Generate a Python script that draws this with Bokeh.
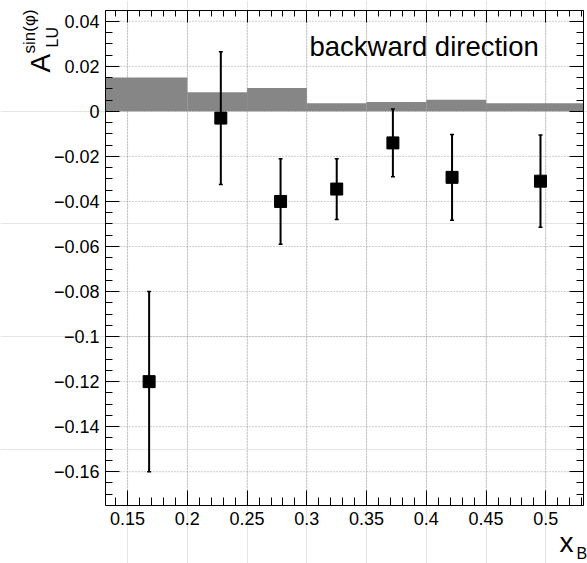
import numpy as np
from bokeh.plotting import figure
from bokeh.models import (ColumnDataSource, Whisker, LinearAxis, FixedTicker,
                          CustomJSTickFormatter, Label, Range1d, TeeHead)
from bokeh.embed import file_html
from bokeh.resources import INLINE

# ---- data ----
x_b = [0.168, 0.228, 0.278, 0.325, 0.372, 0.4215, 0.4955]
a_lu = [-0.120, -0.003, -0.040, -0.0345, -0.014, -0.0293, -0.031]
a_err = [0.040, 0.0295, 0.019, 0.0135, 0.015, 0.019, 0.0205]

sys_left = [0.10, 0.20, 0.25, 0.30, 0.35, 0.40, 0.45]
sys_right = [0.20, 0.25, 0.30, 0.35, 0.40, 0.45, 0.60]
sys_height = [0.0150, 0.0085, 0.0104, 0.0036, 0.0041, 0.0051, 0.0036]

x_major = [0.15, 0.2, 0.25, 0.3, 0.35, 0.4, 0.45, 0.5]
y_major = [-0.16, -0.14, -0.12, -0.1, -0.08, -0.06, -0.04, -0.02, 0, 0.02, 0.04]

FONT = "Liberation Sans"
XR = (0.1315, 0.5315)      # plotted x range
YR = (-0.175, 0.045)       # plotted y range

x_minor = [v for v in (round(t, 3) for t in np.arange(0.14, 0.535, 0.01))
           if all(abs(v - m) > 1e-9 for m in x_major)]
y_minor = [v for v in (round(t, 4) for t in np.arange(-0.17, 0.0451, 0.005))
           if all(abs(v - m) > 1e-9 for m in y_major)]

# layout of the plot box inside the 587x563 canvas (pixels)
W, H = 587, 563
BOX_L, BOX_R, BOX_T, BOX_B = 105.0, 583.0, 9.5, 505.0
kx = (XR[1] - XR[0]) / (BOX_R - BOX_L)
ky = (YR[1] - YR[0]) / (BOX_B - BOX_T)
x_full = (XR[0] - BOX_L * kx, XR[1] + (W - BOX_R) * kx)
y_full = (YR[0] - (H - BOX_B) * ky, YR[1] + BOX_T * ky)

p = figure(width=W, height=H, x_range=Range1d(*x_full), y_range=Range1d(*y_full),
           output_backend="svg", toolbar_location=None,
           x_axis_location=None, y_axis_location=None,
           min_border_left=0, min_border_right=0, min_border_top=0,
           min_border_bottom=0)
p.background_fill_color = "white"
p.border_fill_color = "white"
p.outline_line_color = None

fmt = CustomJSTickFormatter(code="""
const s = String(parseFloat(tick.toFixed(4)));
return s.replace('-', '\\u2212');
""")
blank = CustomJSTickFormatter(code="return '';")

xt = FixedTicker(ticks=x_major, minor_ticks=x_minor)
yt = FixedTicker(ticks=y_major, minor_ticks=y_minor)


def mk_axis(ticker, labels, loc, bounds, major_len=14, minor_len=7):
    ax = LinearAxis(ticker=ticker, formatter=fmt if labels else blank,
                    fixed_location=loc, bounds=bounds,
                    major_tick_in=major_len, major_tick_out=0,
                    minor_tick_in=minor_len, minor_tick_out=0,
                    axis_line_color="black", major_tick_line_color="black",
                    minor_tick_line_color="black",
                    major_label_text_font=FONT,
                    major_label_text_color="black",
                    major_label_text_font_size="18px",
                    major_label_standoff=6 if labels else 0)
    return ax


# grid lines (dotted), limited to the plot box
p.segment(x0=x_major, x1=x_major, y0=[YR[0]] * len(x_major), y1=[YR[1]] * len(x_major),
          line_color="#a0a0a0", line_dash="1 2", line_width=1)
p.segment(x0=[XR[0]] * len(y_major), x1=[XR[1]] * len(y_major), y0=y_major, y1=y_major,
          line_color="#a0a0a0", line_dash="1 2", line_width=1)

# systematic band (clipped to the plot box)
band = ColumnDataSource(dict(left=list(np.clip(sys_left, *XR)),
                             right=list(np.clip(sys_right, *XR)),
                             top=sys_height, bottom=[0] * len(sys_height)))
p.quad(left="left", right="right", top="top", bottom="bottom", source=band,
       fill_color="#868686", line_color=None)

# data points
src = ColumnDataSource(dict(x=x_b, y=a_lu,
                            upper=[v + e for v, e in zip(a_lu, a_err)],
                            lower=[v - e for v, e in zip(a_lu, a_err)]))
p.add_layout(Whisker(base="x", upper="upper", lower="lower", source=src,
                     line_color="black", line_width=2, level="glyph",
                     upper_head=TeeHead(size=4, line_color="black", line_width=1.5),
                     lower_head=TeeHead(size=4, line_color="black", line_width=1.5)))
p.scatter(x="x", y="y", source=src, marker="square", size=12,
          fill_color="black", line_color="black")

p.add_layout(mk_axis(xt, True, YR[0], XR, 15, 8), "below")
p.add_layout(mk_axis(yt, True, XR[0], YR), "left")
p.add_layout(mk_axis(xt, False, YR[1], XR, 12, 6), "above")
p.add_layout(mk_axis(yt, False, XR[1], YR), "right")


def sx(px):
    return x_full[0] + px * kx


def sy(py):
    return y_full[1] - py * ky


SHIFT = 0.345  # baseline correction (fraction of font size)


def lab(text, px, py, fs, angle=0.0):
    if angle:
        px -= SHIFT * fs
    else:
        py -= SHIFT * fs
    p.add_layout(Label(x=sx(px), y=sy(py), text=text, text_font=FONT,
                       text_font_size=f"{fs}px", angle=angle, text_color="black",
                       text_align="left", text_baseline="alphabetic"))


lab("backward direction", 309, 55, 27.5)
lab("A", 50, 72, 28, np.pi / 2)
lab("LU", 58, 47, 16, np.pi / 2)
lab("sin(\u03c6)", 35, 53, 17, np.pi / 2)
lab("x", 559, 552, 28)
lab("B", 576, 558.5, 16)

open("out.html", "w").write(file_html(p, INLINE))
